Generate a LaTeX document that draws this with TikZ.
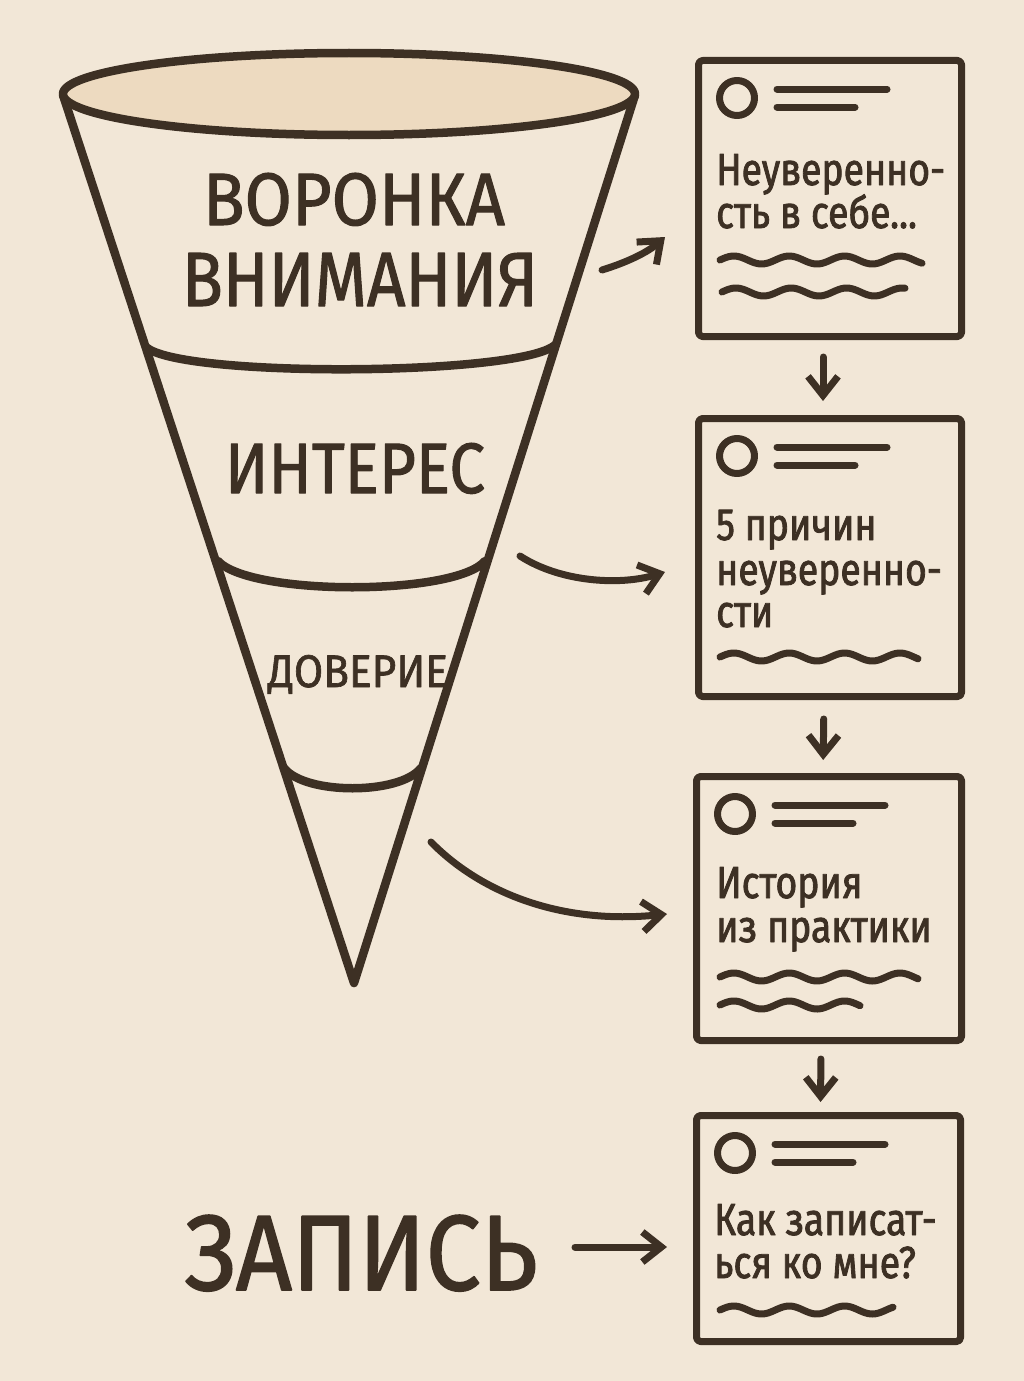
\documentclass[tikz,border=0pt]{standalone}
\usepackage{fontspec}
\usepackage{graphicx}
\setmainfont{Fira Sans}
\newfontfamily\boxfont[FakeStretch=0.83,FakeBold=1.8]{Fira Sans}
\newfontfamily\titlefont[FakeBold=1.5]{Fira Sans}
\usetikzlibrary{arrows.meta}
\definecolor{ink}{HTML}{3D3024}
\definecolor{paper}{HTML}{F2E7D7}
\definecolor{rim}{HTML}{EDDAC0}
\newcommand\cardhead[2]{%
  \draw[ink, line width=7] ({#1+42},{#2+41}) circle (17.5);
  \draw[ink, line width=7] ({#1+82},{#2+32}) -- ({#1+192},{#2+32});
  \draw[ink, line width=7] ({#1+82},{#2+50}) -- ({#1+160},{#2+50});
}
\newcommand\wavy[3]{%
  \draw[ink, line width=7] plot[domain=0:#3, samples=70, smooth] ({#1+\x},{#2-4*sin(\x*6.5)});
}
\begin{document}
\begin{tikzpicture}[x=1pt,y=-1pt, line join=round, line cap=round,
  funnel/.style={draw=ink, line width=8.5},
  card/.style={draw=ink, line width=7, rounded corners=4, inner sep=0, anchor=north west},
  link/.style={draw=ink, line width=7, -{Straight Barb[length=19pt,width=30pt]}},
  title/.style={anchor=base, inner sep=0, text=ink, font=\titlefont\fontsize{70pt}{70pt}\selectfont},
  cardtext/.style={anchor=base west, inner sep=0, text=ink, font=\boxfont\fontsize{45pt}{45pt}\selectfont}
]
\useasboundingbox (0,0) rectangle (1024,1381);
\fill[paper] (0,0) rectangle (1024,1381);

% funnel
\coordinate (fl) at (63,95);
\coordinate (fr) at (635,95);
\coordinate (apex) at (354,983);
\draw[funnel] (fl) -- (apex) -- (fr);
\draw[funnel, fill=rim] (349,94) ellipse [x radius=286, y radius=41];
\draw[funnel] (146,347) .. controls (180,378) and (520,376) .. (555,345);
\draw[funnel] (218,561) .. controls (250,596) and (455,596) .. (485,561);
\draw[funnel] (284,768) .. controls (305,795) and (400,795) .. (421,768);

% funnel labels
\node[title] (t1) at (354,225) {\resizebox{302pt}{52pt}{ВОРОНКА}};
\node[title] (t2) at (360,306) {\resizebox{356pt}{53pt}{ВНИМАНИЯ}};
\node[title] (t3) at (355,493) {\resizebox{260pt}{50pt}{ИНТЕРЕС}};
\node[title] (t4) at (358,687) {\resizebox{180pt}{32pt}{ДОВЕРИЕ}};
\node[title] (zap) at (361,1290) {\resizebox{352pt}{75pt}{ЗАПИСЬ}};

% cards
\node[card, minimum width=263, minimum height=276] (b1) at (695,57) {};
\node[card, minimum width=263, minimum height=278] (b2) at (695,415) {};
\node[card, minimum width=265, minimum height=264] (b3) at (693,773) {};
\node[card, minimum width=264, minimum height=226] (b4) at (693,1112) {};

\cardhead{695}{57}
\cardhead{695}{415}
\cardhead{693}{773}
\cardhead{693}{1112}

\node[cardtext] (b1a) at (716,185) {Неуверенно-};
\node[cardtext] (b1b) at (716,228) {сть в себе...};
\wavy{720}{260}{202}
\wavy{722}{292}{183}

\node[cardtext] (b2a) at (716,540) {5 причин};
\node[cardtext] (b2b) at (716,585) {неуверенно-};
\node[cardtext] (b2c) at (716,627) {сти};
\wavy{720}{657}{198}

\node[cardtext] (b3a) at (716,898) {История};
\node[cardtext] (b3b) at (716,942) {из практики};
\wavy{720}{977}{198}
\wavy{720}{1005}{140}

\node[cardtext] (b4a) at (714,1235) {Как записат-};
\node[cardtext] (b4b) at (714,1278) {ься ко мне?};
\wavy{720}{1310}{173}

% vertical links
\draw[link, shorten <=17, shorten >=14] ([xshift=-7]b1.south) -- ([xshift=-7]b2.north);
\draw[link, shorten <=19, shorten >=13] ([xshift=-6]b2.south) -- ([xshift=-6]b3.north);
\draw[link, shorten <=15, shorten >=10] ([xshift=-8]b3.south) -- ([xshift=-8]b4.north);

% curved links
\coordinate (a1s) at (602,270);
\coordinate (a1e) at (665,237);
\coordinate (a2s) at (520,556);
\coordinate (a2e) at (665,572);
\coordinate (a3s) at (431,842);
\coordinate (a3e) at (667,914);
\coordinate (a4s) at (575,1247);
\draw[link] (a1s) .. controls (628,262) and (648,252) .. (a1e);
\draw[link] (a2s) .. controls (560,582) and (620,586) .. (a2e);
\draw[link] (a3s) .. controls (480,892) and (560,925) .. (a3e);
\draw[link, shorten >=26] (a4s) -- (a4s -| b4.west);
\end{tikzpicture}
\end{document}
